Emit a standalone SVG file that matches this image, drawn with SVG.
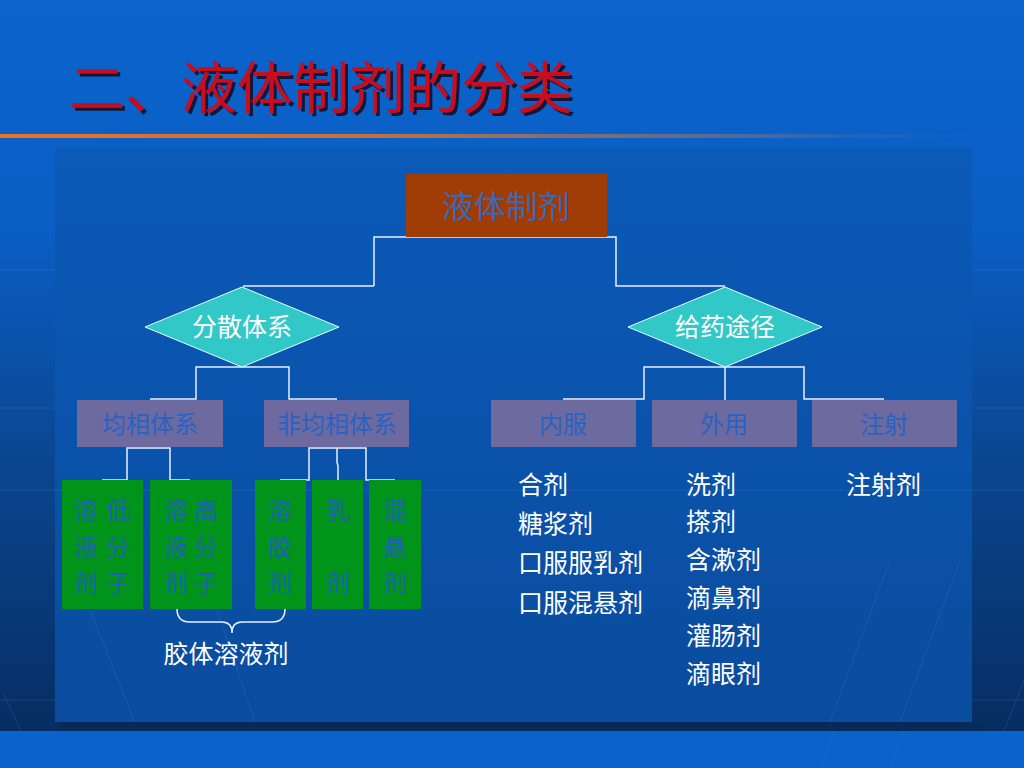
<svg xmlns="http://www.w3.org/2000/svg" width="1024" height="768" viewBox="0 0 1024 768">
<defs>
<linearGradient id="bg" x1="0" y1="0" x2="0" y2="1">
<stop offset="0" stop-color="#0a64cc"/>
<stop offset="0.3" stop-color="#0a5ec4"/>
<stop offset="0.6" stop-color="#0a4690"/>
<stop offset="1" stop-color="#062a5c"/>
</linearGradient>
<linearGradient id="panel" x1="0" y1="0" x2="0" y2="1">
<stop offset="0" stop-color="#0a5ab8"/>
<stop offset="1" stop-color="#0a4c9e"/>
</linearGradient>
<linearGradient id="rule" x1="0" y1="0" x2="1" y2="0">
<stop offset="0" stop-color="#f07020"/>
<stop offset="0.35" stop-color="#c8703a"/>
<stop offset="0.75" stop-color="#4a6aa0"/>
<stop offset="1" stop-color="#0a64cc" stop-opacity="0"/>
</linearGradient>
<filter id="shadow" x="-5%" y="-20%" width="115%" height="150%">
<feOffset in="SourceAlpha" dx="3" dy="3" result="o"/>
<feFlood flood-color="#141838"/>
<feComposite in2="o" operator="in" result="s"/>
<feMerge><feMergeNode in="s"/><feMergeNode in="SourceGraphic"/></feMerge>
</filter>
<style>
.cn{font-family:"Noto Sans CJK SC","Noto Sans",sans-serif;}
.w{fill:#ffffff;font-size:25px;}
.dim{fill:#2a62c4;font-size:24px;}
.gt{fill:#1e62b8;font-size:24px;}
.conn{fill:none;stroke:#e8f0ff;stroke-width:1.5;}
.box{fill:#6c6a9e;}
.green{fill:#00941a;}
.dia{fill:#33c8c8;stroke:#e0ffff;stroke-width:1;}
.deco{stroke:#4a86d8;stroke-width:1;opacity:0.22;}
</style>
</defs>

<!-- background -->
<rect x="0" y="0" width="1024" height="768" fill="url(#bg)"/>
<g class="deco">
<line x1="0" y1="270" x2="1024" y2="270"/>
<line x1="0" y1="408" x2="1024" y2="408"/>
<line x1="0" y1="490" x2="1024" y2="490"/>
<line x1="0" y1="700" x2="1024" y2="700"/>
<line x1="2" y1="690" x2="25" y2="740"/>
<line x1="990" y1="768" x2="1024" y2="680"/>
</g>
<rect x="60" y="722" width="925" height="9" fill="#062a5a"/>
<rect x="55" y="148" width="917" height="574" fill="url(#panel)"/>
<g class="deco">
<line x1="90" y1="610" x2="135" y2="722"/>
<line x1="200" y1="560" x2="255" y2="722"/>
<line x1="830" y1="722" x2="890" y2="560"/>
<line x1="900" y1="722" x2="960" y2="560"/>
<line x1="55" y1="490" x2="972" y2="490"/>
</g>
<rect x="0" y="731" width="1024" height="37" fill="#0a62cc"/>
<g class="deco">
<line x1="820" y1="768" x2="835" y2="731"/>
<line x1="890" y1="768" x2="905" y2="731"/>
</g>

<!-- title -->
<g id="title" filter="url(#shadow)">
<text class="cn" x="69" y="108" font-size="56" fill="#c80a1e">二、液体制剂的分类</text>
</g>
<rect x="0" y="134" width="1010" height="4" fill="url(#rule)"/>

<!-- connectors -->
<g id="connectors" class="conn">
<polyline points="374,286 243,286"/>
<polyline points="374,286 374,237 616,237 616,286 725,286"/>
<polyline points="150,399 196,399 196,367 289,367 289,399 337,399"/>
<polyline points="563,399 644,399 644,367 804,367 804,399 884,399"/>
<line x1="725" y1="367" x2="725" y2="400"/>
<polyline points="102,480 127,480 127,448 170,448 170,480 190,480"/>
<polyline points="280,480 309,480 309,448 366,448 366,480 395,480"/>
<polyline points="337,448 337,462 338,466 338,480"/>
<path d="M177,609 Q177,622 190,622 L222,622 Q232,622 232,633 Q232,622 242,622 L272,622 Q285,622 285,609"/>
</g>

<!-- nodes -->
<g id="root">
<rect x="406" y="174" width="201" height="63" fill="#a03c06"/>
<text class="cn" x="506" y="218" font-size="32" fill="#3a68b4" text-anchor="middle">液体制剂</text>
</g>

<g id="disperse">
<polygon class="dia" points="242,287 339,327 242,367 145,327"/>
<text class="cn w" x="242" y="336" text-anchor="middle">分散体系</text>
</g>
<g id="route">
<polygon class="dia" points="725,287 822,327 725,367 628,327"/>
<text class="cn w" x="725" y="336" text-anchor="middle">给药途径</text>
</g>

<g id="homo">
<rect class="box" x="77" y="400" width="146" height="47"/>
<text class="cn dim" x="150" y="433" text-anchor="middle">均相体系</text>
</g>
<g id="hetero">
<rect class="box" x="264" y="400" width="145" height="47"/>
<text class="cn dim" x="337" y="433" text-anchor="middle">非均相体系</text>
</g>
<g id="oral">
<rect class="box" x="491" y="400" width="145" height="47"/>
<text class="cn dim" x="563" y="433" text-anchor="middle">内服</text>
</g>
<g id="external">
<rect class="box" x="652" y="400" width="145" height="47"/>
<text class="cn dim" x="724" y="433" text-anchor="middle">外用</text>
</g>
<g id="injection">
<rect class="box" x="812" y="400" width="145" height="47"/>
<text class="cn dim" x="884" y="433" text-anchor="middle">注射</text>
</g>

<g id="low-mol" class="cn gt" text-anchor="middle">
<rect class="green" x="62" y="480" width="81" height="129"/>
<text x="86" y="519">溶</text><text x="86" y="556">液</text><text x="86" y="592">剂</text>
<text x="118" y="519">低</text><text x="118" y="556">分</text><text x="118" y="592">子</text>
</g>
<g id="high-mol" class="cn gt" text-anchor="middle">
<rect class="green" x="150" y="480" width="82" height="129"/>
<text x="176" y="519">溶</text><text x="176" y="556">液</text><text x="176" y="592">剂</text>
<text x="206" y="519">高</text><text x="206" y="556">分</text><text x="206" y="592">子</text>
</g>
<g id="sol" class="cn gt" text-anchor="middle">
<rect class="green" x="255" y="480" width="51" height="129"/>
<text x="280" y="519">溶</text><text x="280" y="556">胶</text><text x="280" y="592">剂</text>
</g>
<g id="emulsion" class="cn gt" text-anchor="middle">
<rect class="green" x="312" y="480" width="51" height="129"/>
<text x="338" y="519">乳</text><text x="338" y="592">剂</text>
</g>
<g id="suspension" class="cn gt" text-anchor="middle">
<rect class="green" x="369" y="480" width="52" height="129"/>
<text x="395" y="519">混</text><text x="395" y="556">悬</text><text x="395" y="592">剂</text>
</g>

<g id="colloid-label">
<text class="cn w" x="226" y="663" text-anchor="middle">胶体溶液剂</text>
</g>

<g id="oral-list" class="cn w">
<text x="518" y="494">合剂</text>
<text x="518" y="533">糖浆剂</text>
<text x="518" y="572">口服服乳剂</text>
<text x="518" y="612">口服混悬剂</text>
</g>
<g id="external-list" class="cn w">
<text x="686" y="494">洗剂</text>
<text x="686" y="531">搽剂</text>
<text x="686" y="569">含漱剂</text>
<text x="686" y="607">滴鼻剂</text>
<text x="686" y="645">灌肠剂</text>
<text x="686" y="683">滴眼剂</text>
</g>
<g id="injection-list" class="cn w">
<text x="846" y="494">注射剂</text>
</g>
</svg>
